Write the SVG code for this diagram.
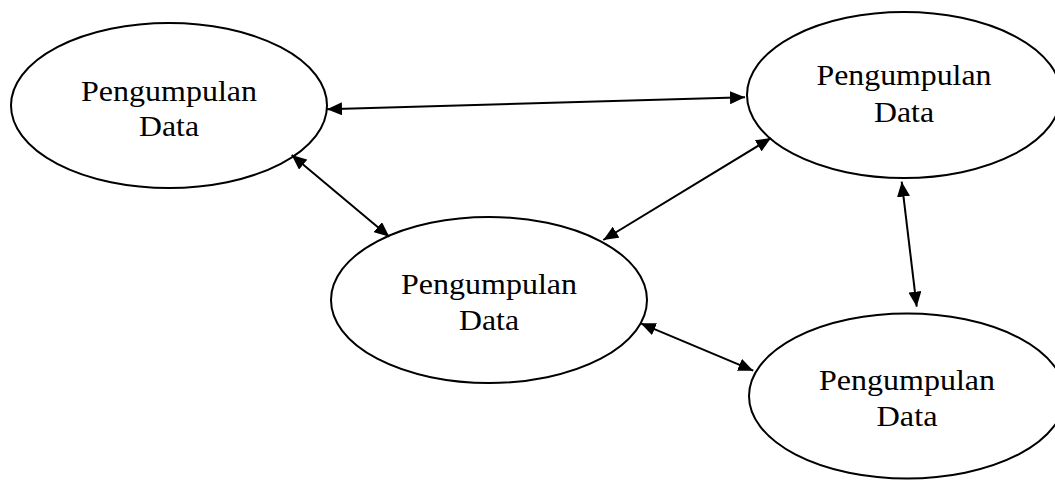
<svg xmlns="http://www.w3.org/2000/svg" width="1055" height="480" viewBox="0 0 1055 480">
<style>
.node ellipse{fill:#fff;stroke:#000;stroke-width:2}
.node text{font-family:"Liberation Serif","Times New Roman",serif;font-size:30px;fill:#000;text-anchor:middle}
.conn line{stroke:#000;stroke-width:2;marker-start:url(#ah);marker-end:url(#ah)}
</style>
<defs>
<marker id="ah" markerUnits="userSpaceOnUse" markerWidth="15" markerHeight="13" refX="15" refY="6.5" orient="auto-start-reverse">
<path d="M0,0 L15,6.5 L0,13 z" fill="#000"/>
</marker>
</defs>
<rect width="1055" height="480" fill="#fff"/>
<g id="n1" class="node">
<ellipse cx="169" cy="105.5" rx="158" ry="82.5"/>
<text x="169" y="100.5" textLength="176" lengthAdjust="spacingAndGlyphs">Pengumpulan</text>
<text x="169" y="136" textLength="60" lengthAdjust="spacingAndGlyphs">Data</text>
</g>
<g id="n2" class="node">
<ellipse cx="904" cy="95" rx="157" ry="83"/>
<text x="904" y="85" textLength="175" lengthAdjust="spacingAndGlyphs">Pengumpulan</text>
<text x="904" y="121.5" textLength="60" lengthAdjust="spacingAndGlyphs">Data</text>
</g>
<g id="n3" class="node">
<ellipse cx="489" cy="300" rx="158" ry="83"/>
<text x="489" y="293.5" textLength="176" lengthAdjust="spacingAndGlyphs">Pengumpulan</text>
<text x="489" y="330" textLength="60" lengthAdjust="spacingAndGlyphs">Data</text>
</g>
<g id="n4" class="node">
<ellipse cx="907" cy="396" rx="158" ry="82.5"/>
<text x="907" y="390" textLength="176" lengthAdjust="spacingAndGlyphs">Pengumpulan</text>
<text x="907" y="426" textLength="61" lengthAdjust="spacingAndGlyphs">Data</text>
</g>
<g id="connectors" class="conn">
<line x1="327" y1="109.3" x2="745" y2="97.3"/>
<line x1="291.7" y1="155" x2="389.3" y2="236.7"/>
<line x1="771" y1="138" x2="603.3" y2="240"/>
<line x1="901.7" y1="181.7" x2="916.7" y2="306.7"/>
<line x1="640.7" y1="323.3" x2="753.3" y2="370.7"/>
</g>
</svg>
